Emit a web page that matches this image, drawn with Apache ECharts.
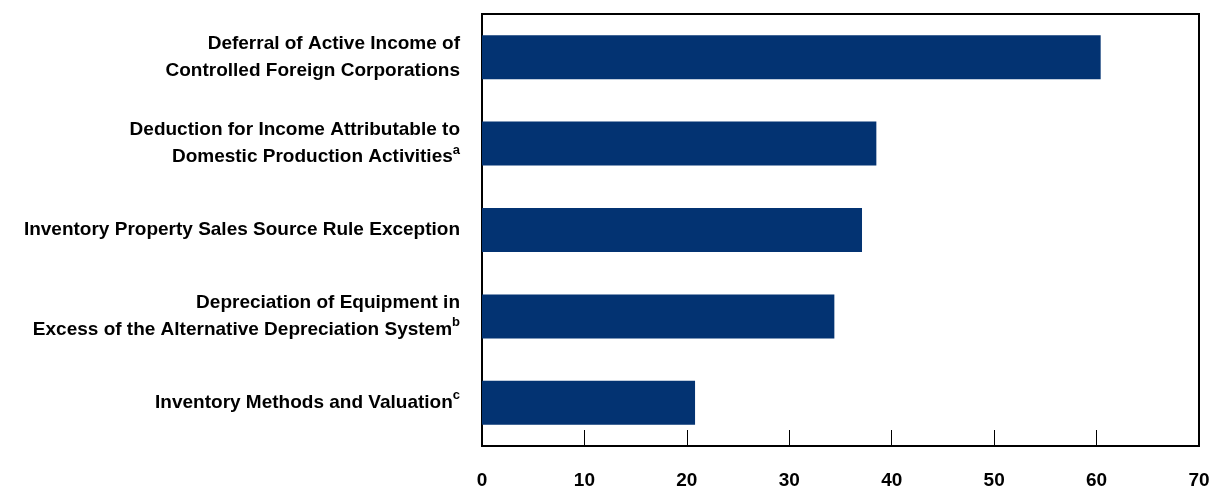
<!DOCTYPE html>
<html>
<head>
<meta charset="utf-8">
<script src="https://cdn.jsdelivr.net/npm/echarts@6/dist/echarts.min.js"></script>
<style>
    html, body { margin: 0; padding: 0; background: #fff; }
    #chart { width: 1215px; height: 491px; }
</style>
</head>
<body>
<div id="chart"></div>
<script>
// top to bottom as in the picture
const categories = [
    "Deferral of Active Income of\nControlled Foreign Corporations",
    "Deduction for Income Attributable to\nDomestic Production Activities{sup|a}",
    "Inventory Property Sales Source Rule Exception",
    "Depreciation of Equipment in\nExcess of the Alternative Depreciation System{sup|b}",
    "Inventory Methods and Valuation{sup|c}"
]
const values = [60.4, 38.5, 37.1, 34.4, 20.8]
const xTicks = [0, 10, 20, 30, 40, 50, 60, 70]

const labelFont = '"Liberation Sans", Arial, sans-serif'
const barColor = '#033372'

let chart = echarts.init(document.getElementById('chart'))

let option = {
    animation: false,
    grid: {
        left: 482,
        right: 16,
        top: 14,
        bottom: 45,
        show: true,
        borderColor: '#000',
        borderWidth: 2,
        containLabel: false
    },
    xAxis: {
        type: 'value',
        min: xTicks[0],
        max: xTicks[xTicks.length - 1],
        interval: 10,
        axisLine: { show: true, lineStyle: { color: '#000', width: 2 } },
        axisTick: { show: true, inside: true, length: 16, lineStyle: { color: '#000', width: 1 } },
        splitLine: { show: false },
        axisLabel: {
            margin: 25,
            color: '#000',
            fontFamily: labelFont,
            fontWeight: 'bold',
            fontSize: 19
        }
    },
    yAxis: {
        type: 'category',
        inverse: true,
        data: categories,
        axisLine: { show: true, lineStyle: { color: '#000', width: 2 } },
        axisTick: { show: false },
        axisLabel: {
            margin: 22,
            color: '#000',
            fontFamily: labelFont,
            fontWeight: 'bold',
            fontSize: 19,
            lineHeight: 27,
            align: 'right',
            rich: {
                sup: {
                    fontFamily: labelFont,
                    fontWeight: 'bold',
                    fontSize: 13,
                    color: '#000',
                    verticalAlign: 'top',
                    lineHeight: 27,
                    padding: [0, 0, 12, 0]
                }
            }
        }
    },
    series: [{
        type: 'bar',
        data: values,
        barWidth: 44,
        itemStyle: { color: barColor }
    }]
}

chart.setOption(option)
</script>
</body>
</html>
